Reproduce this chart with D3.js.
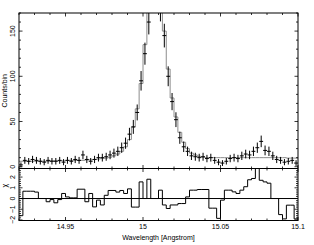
<!DOCTYPE html>
<html><head><meta charset="utf-8">
<script src="https://cdn.jsdelivr.net/npm/d3@7"></script>
<style>
html,body{margin:0;padding:0;background:#fff;}
svg{display:block;}
text{font-family:"Liberation Sans","DejaVu Sans",sans-serif;fill:#000;}
</style></head>
<body><svg id="c" width="314" height="245"></svg>
<script>
// Bin left edges (Angstrom), bin width 0.0025
const binEdges = [14.92,14.9225,14.925,14.9275,14.93,14.9325,14.935,14.9375,14.94,14.9425,14.945,14.9475,
14.95,14.9525,14.955,14.9575,14.96,14.9625,14.965,14.9675,14.97,14.9725,14.975,14.9775,
14.98,14.9825,14.985,14.9875,14.99,14.9925,14.995,14.9975,15.0,15.0025,15.005,15.0075,
15.01,15.0125,15.015,15.0175,15.02,15.0225,15.025,15.0275,15.03,15.0325,15.035,15.0375,
15.04,15.0425,15.045,15.0475,15.05,15.0525,15.055,15.0575,15.06,15.0625,15.065,15.0675,
15.07,15.0725,15.075,15.0775,15.08,15.0825,15.085,15.0875,15.09,15.0925,15.095,15.0975];
const binWidth = 0.0025;
const counts = [2,7,6,8,7,6,5,7,6,6,7,5,7,6,8,7,
13,8,6,8,10,
10,11,13,15,17,21,26,36,44,60,
95,125,160,185,190,175,145,100,72,52,
32,22,17,12,11,10,11,9,10,7,
5,4,6,9,10,9,12,14,13,17,
21,28,18,17,12,8,7,5,6,7,4];
const countErr = [2.7,3.8,3.6,4.0,3.8,3.6,3.4,3.8,3.6,3.6,3.8,3.4,3.8,3.6,4.0,3.8,
4.7,4.0,3.6,4.0,4.3,
4.3,4.4,4.7,5.0,5.2,5.7,6.2,7.0,7.7,8.8,
10.8,12.2,13.7,14.6,14.8,14.3,13.1,11.0,9.5,8.2,
6.7,5.8,5.2,4.6,4.4,4.3,4.4,4.1,4.3,3.8,
3.4,3.2,3.6,4.1,4.3,4.1,4.6,4.8,4.7,5.2,
5.7,6.4,5.4,5.2,4.6,4.0,3.8,3.4,3.6,3.8,3.2];
const model = [6,6,6,6,6,6,6,6,6.5,6.5,6.5,6.5,7,7,7,7,
7,7.5,7.5,8,8.5,
9,9.5,10.5,12,14,17,22,30,44,64,
92,135,195,240,235,180,150,108,76,55,
38,27,20,15,13,11.5,10.5,10,10,10,
10,10,10,10,10,10,10,10,10,10,
10,10,10,10,10,10,10,10,9.5,9.5,9.5];
const resid = [-1.6,0.68,0.68,0.68,0.6,0,0,
-0.3,-0.1,-0.4,-0.1,0.47,0.15,0.06,0.06,0.87,0.87,-0.3,0.47,-0.78,-0.15,
-0.6,0.3,0.75,0.75,0.6,0.75,0.47,0.9,-0.8,-0.8,
1.55,0,1.8,0,0,0.78,-0.6,-0.93,-0.6,-0.6,
-0.47,-0.47,0.15,0.78,0.78,0.84,0.84,0.84,-0.9,-0.9,
-1.85,-0.15,0.78,0.78,0.62,0.47,0.78,1.1,1.75,1.87,
3.2,1.7,1.55,1.43,0,0,-1.5,-1.9,-0.62,-0.62,-1.9];
const xMajor = [14.95,15,15.05,15.1];
const xMajorLabels = ["14.95","15","15.05","15.1"];
const yTopMajor = [0,50,100,150];
const yResMajor = [-2,-1,0,1,2];

const svg = d3.select("#c");
const L=19, R=298, T=13, MID=168.5, B=220.5;
const x = d3.scaleLinear().domain([14.92,15.1]).range([L,R]);
const yT = d3.scaleLinear().domain([-2,170]).range([MID,T]);
const yR = d3.scaleLinear().domain([-2.05,2.8]).range([B,MID]);

const defs = svg.append("defs");
defs.append("clipPath").attr("id","cpT").append("rect").attr("x",L).attr("y",T).attr("width",R-L).attr("height",MID-T);
defs.append("clipPath").attr("id","cpR").append("rect").attr("x",L).attr("y",MID).attr("width",R-L).attr("height",B-MID);

// ---- top panel
const gT = svg.append("g").attr("clip-path","url(#cpT)");
const mPts = binEdges.map((e,i)=>[e,model[i]]).concat([[binEdges[binEdges.length-1]+binWidth, model[model.length-1]]]);
gT.append("path").attr("d", d3.line().x(d=>x(d[0])).y(d=>yT(d[1])).curve(d3.curveStepAfter)(mPts))
  .attr("fill","none").attr("stroke","#8c8c8c").attr("stroke-width",1);
binEdges.forEach((e,i)=>{
  const xc = x(e+binWidth/2);
  gT.append("line").attr("x1",x(e)).attr("x2",x(e+binWidth)).attr("y1",yT(counts[i])).attr("y2",yT(counts[i]))
    .attr("stroke","#000").attr("stroke-width",1);
  gT.append("line").attr("x1",xc).attr("x2",xc).attr("y1",yT(counts[i]-countErr[i])).attr("y2",yT(counts[i]+countErr[i]))
    .attr("stroke","#000").attr("stroke-width",1);
});

// ---- residual panel
const gR = svg.append("g").attr("clip-path","url(#cpR)");
gR.append("line").attr("x1",L).attr("x2",R).attr("y1",yR(0)).attr("y2",yR(0)).attr("stroke","#000").attr("stroke-width",1);
const rPts = binEdges.map((e,i)=>[e,resid[i]]).concat([[binEdges[binEdges.length-1]+binWidth, resid[resid.length-1]]]);
gR.append("path").attr("d", d3.line().x(d=>x(d[0])).y(d=>yR(d[1])).curve(d3.curveStepAfter)(rPts))
  .attr("fill","none").attr("stroke","#000").attr("stroke-width",1);

// ---- frames
svg.append("rect").attr("x",L).attr("y",T).attr("width",R-L).attr("height",B-T).attr("fill","none").attr("stroke","#000").attr("stroke-width",1);
svg.append("line").attr("x1",L).attr("x2",R).attr("y1",MID).attr("y2",MID).attr("stroke","#000").attr("stroke-width",1.2);

// ---- ticks
const tk = svg.append("g").attr("stroke","#000").attr("stroke-width",0.8);
function xTicks(yEdge, dir){
  d3.range(14.92,15.1001,0.01).forEach(v=>{
    const isMaj = xMajor.some(m=>Math.abs(m-v)<1e-6);
    const len = isMaj?3.5:2;
    tk.append("line").attr("x1",x(v)).attr("x2",x(v)).attr("y1",yEdge).attr("y2",yEdge+dir*len);
  });
}
xTicks(T,1); xTicks(MID,-1); xTicks(MID,1); xTicks(B,-1);
function yTicks(scale, lo, hi, step, majors){
  for(let v=lo; v<=hi+1e-9; v+=step){
    const isMaj = majors.some(m=>Math.abs(m-v)<1e-6);
    const len = isMaj?3.5:2;
    tk.append("line").attr("x1",L).attr("x2",L+len).attr("y1",scale(v)).attr("y2",scale(v));
    tk.append("line").attr("x1",R).attr("x2",R-len).attr("y1",scale(v)).attr("y2",scale(v));
  }
}
yTicks(yT,0,170,10,yTopMajor);
yTicks(yR,-2,2.8,0.2,yResMajor);

// ---- labels
const fs = 7;
xMajor.forEach((v,i)=>{
  svg.append("text").attr("x",x(v)).attr("y",229).attr("text-anchor","middle").attr("font-size",fs).text(xMajorLabels[i]);
});
svg.append("text").attr("x",(L+R)/2).attr("y",240).attr("text-anchor","middle").attr("font-size",fs).text("Wavelength [Angstrom]");
yTopMajor.forEach(v=>{
  svg.append("text").attr("transform",`translate(15,${yT(v)}) rotate(-90)`).attr("text-anchor","middle").attr("font-size",fs).text(String(v));
});
yResMajor.forEach(v=>{
  svg.append("text").attr("transform",`translate(15,${yR(v)}) rotate(-90)`).attr("text-anchor","middle").attr("font-size",fs)
    .text(v<0?"\u2212"+Math.abs(v):String(v));
});
svg.append("text").attr("transform",`translate(7,${(T+MID)/2}) rotate(-90)`).attr("text-anchor","middle").attr("font-size",fs).text("Counts/bin");
svg.append("text").attr("transform",`translate(7,${yR(1.2)}) rotate(-90)`).attr("text-anchor","middle").attr("font-size",fs).text("\u03C7");
</script></body></html>
